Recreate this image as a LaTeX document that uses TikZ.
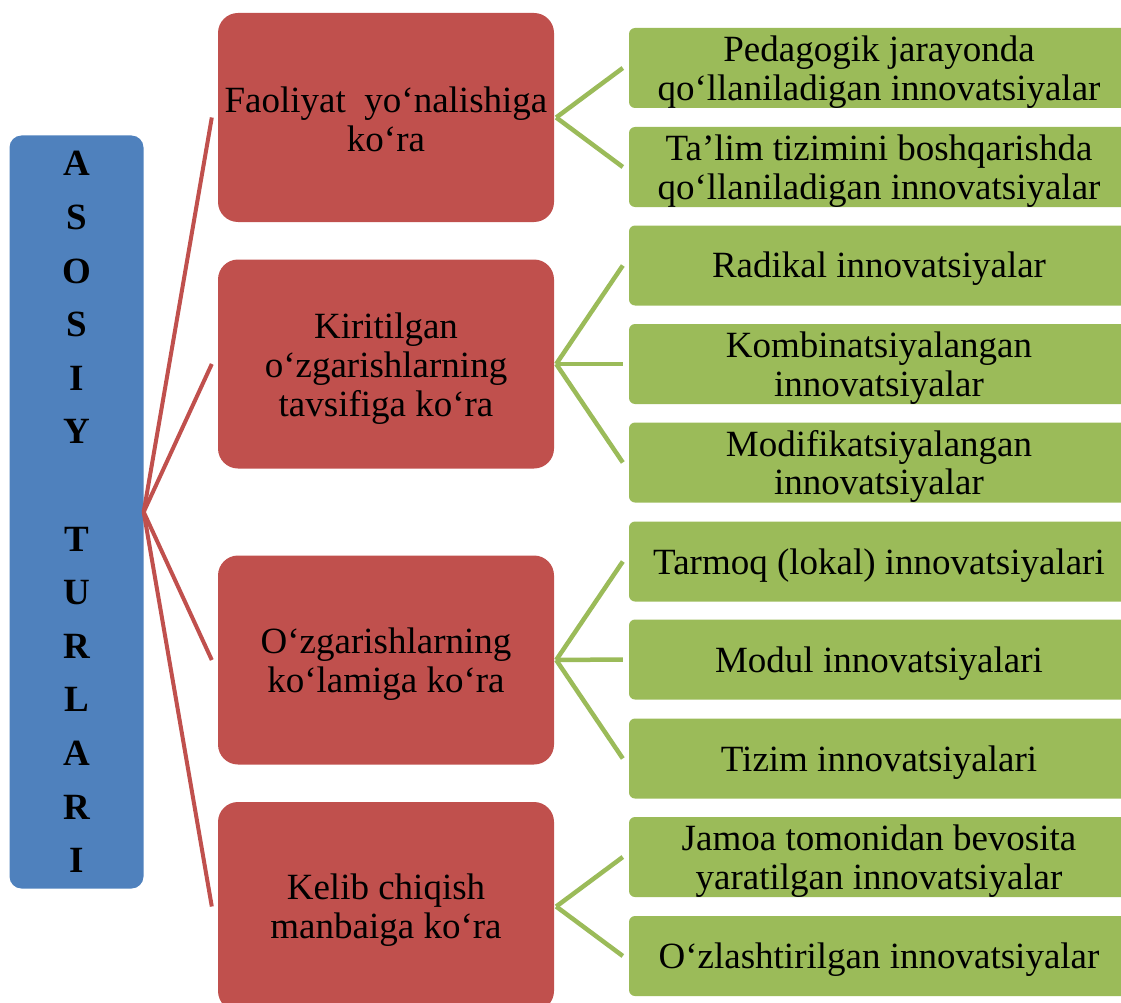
\documentclass[tikz,border=0pt]{standalone}
\usepackage{fontspec}
\setmainfont{Liberation Serif}
\definecolor{cblue}{HTML}{4F81BD}
\definecolor{cred}{HTML}{C0504D}
\definecolor{cgreen}{HTML}{9BBB59}
\begin{document}
\begin{tikzpicture}[x=1pt,y=-1pt,
  bluebox/.style={fill=cblue, rounded corners=12pt, minimum width=134pt, minimum height=753pt, inner sep=0pt, align=center, font=\bfseries\fontsize{37}{53.6}\selectfont},
  redbox/.style={fill=cred, rounded corners=20pt, minimum width=336pt, minimum height=209pt, inner sep=0pt},
  greenbox/.style={fill=cgreen, rounded corners=6pt, minimum width=500pt, minimum height=80pt, inner sep=0pt},
  redtext/.style={inner sep=0pt, align=center, font=\fontsize{37}{39}\selectfont},
  greentext/.style={inner sep=0pt, align=center, font=\fontsize{37}{38.5}\selectfont},
  redline/.style={draw=cred, line width=4pt},
  greenline/.style={draw=cgreen, line width=4.5pt}]
\useasboundingbox (0,0) rectangle (1121,1003);
\clip (0,0) rectangle (1121,1003);

\node[bluebox] (b) at (76.5,512) {A\\S\\O\\S\\I\\Y\\{}\\T\\U\\R\\L\\A\\R\\I};

\node[redbox] (r1) at (386,117.5) {};
\node[redbox] (r2) at (386,364) {};
\node[redbox] (r3) at (386,660) {};
\node[redbox] (r4) at (386,906.5) {};
\node[redtext] (rt1) at ([yshift=-2pt]r1.center) {Faoliyat\ \ yo‘nalishiga\\ko‘ra};
\node[redtext] (rt2) at ([yshift=-4.5pt]r2.center) {Kiritilgan\\o‘zgarishlarning\\tavsifiga ko‘ra};
\node[redtext] (rt3) at ([yshift=-4pt]r3.center) {O‘zgarishlarning\\ko‘lamiga ko‘ra};
\node[redtext] (rt4) at ([yshift=-4pt]r4.center) {Kelib chiqish\\manbaiga ko‘ra};

\node[greenbox] (g1) at (879,68) {};
\node[greenbox] (g2) at (879,167) {};
\node[greenbox] (g3) at (879,265.5) {};
\node[greenbox] (g4) at (879,364) {};
\node[greenbox] (g5) at (879,462.5) {};
\node[greenbox] (g6) at (879,561.5) {};
\node[greenbox] (g7) at (879,659.5) {};
\node[greenbox] (g8) at (879,758.5) {};
\node[greenbox] (g9) at (879,857) {};
\node[greenbox] (g10) at (879,956) {};
\node[greentext] (gt1) at ([yshift=-4pt]g1.center) {Pedagogik jarayonda\\qo‘llaniladigan innovatsiyalar};
\node[greentext] (gt2) at ([yshift=-4pt]g2.center) {Ta’lim tizimini boshqarishda\\qo‘llaniladigan innovatsiyalar};
\node[greentext] (gt3) at ([yshift=-3.5pt]g3.center) {Radikal innovatsiyalar};
\node[greentext] (gt4) at ([yshift=-4pt]g4.center) {Kombinatsiyalangan\\innovatsiyalar};
\node[greentext] (gt5) at ([yshift=-4pt]g5.center) {Modifikatsiyalangan\\innovatsiyalar};
\node[greentext] (gt6) at ([yshift=-4pt]g6.center) {Tarmoq (lokal) innovatsiyalari};
\node[greentext] (gt7) at ([yshift=-4pt]g7.center) {Modul innovatsiyalari};
\node[greentext] (gt8) at ([yshift=-4pt]g8.center) {Tizim innovatsiyalari};
\node[greentext] (gt9) at ([yshift=-4pt]g9.center) {Jamoa tomonidan bevosita\\yaratilgan innovatsiyalar};
\node[greentext] (gt10) at ([yshift=-4pt]g10.center) {O‘zlashtirilgan innovatsiyalar};

\foreach \r in {r1,r2,r3,r4}
  \draw[redline] (b.east) -- ([xshift=-6pt]\r.west);

\foreach \r/\g in {r1/g1,r1/g2,r2/g3,r2/g4,r2/g5,r3/g6,r3/g7,r3/g8,r4/g9,r4/g10}
  \draw[greenline] ([xshift=2pt]\r.east) -- ([xshift=-6pt]\g.west);
\end{tikzpicture}
\end{document}
